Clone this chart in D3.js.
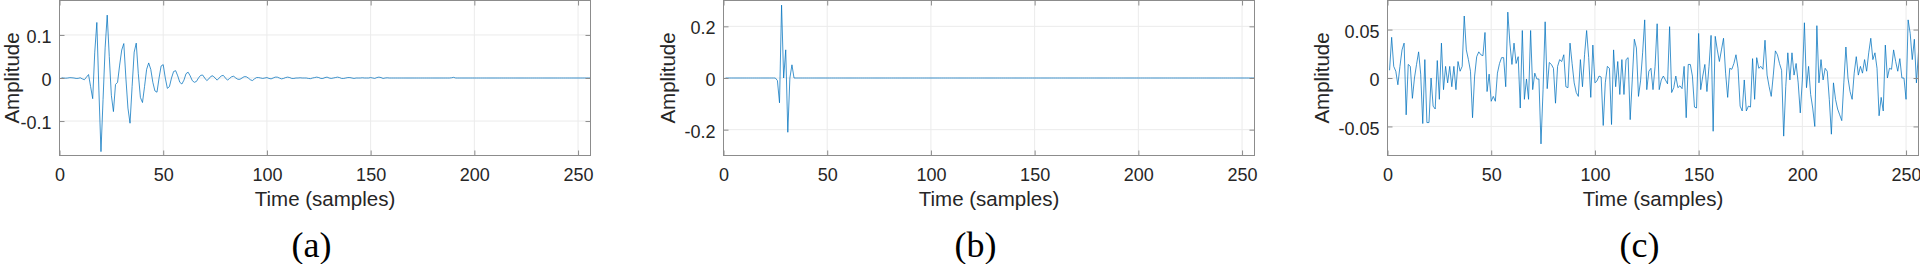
<!DOCTYPE html>
<html>
<head>
<meta charset="utf-8">
<script src="https://cdn.jsdelivr.net/npm/d3@7"></script>
<style>
    body { margin: 0; background: #fff; }
    svg { display: block; }
</style>
</head>
<body>
<svg id="fig" width="1920" height="264"></svg>
<script>
// ---- data ----
const timeTicks = [0, 50, 100, 150, 200, 250];
const timeDomain = [0, 256];
const captions = ["(a)", "(b)", "(c)"];

const ampTicksA = [-0.1, 0, 0.1];
const ampTicksB = [-0.2, 0, 0.2];
const ampTicksC = [-0.05, 0, 0.05];
const ampDomainA = [-0.18, 0.18];
const ampDomainB = [-0.3, 0.3];
const ampDomainC = [-0.08, 0.08];

// samples 1..256
const seriesA = [
    0.0005, 0, -0.0005, 0, 0.0008, 0.0005, 0, -0.001, -0.0008, 0.0005, -0.002, -0.004, 0.002, 0.008, -0.02, -0.048,
    0.06, 0.129, -0.03, -0.171, -0.05, 0.07, 0.146, 0.05, -0.04, -0.078, -0.015, -0.01, 0.03, 0.065, 0.08, 0.0,
    -0.07, -0.105, -0.02, 0.06, 0.081, 0.01, -0.045, -0.057, -0.02, 0.02, 0.035, 0.02, -0.01, -0.03, -0.033, 0.0,
    0.028, 0.031, 0.0, -0.024, -0.02, 0.0, 0.015, 0.017, 0.005, -0.01, -0.014, -0.005, 0.01, 0.0135, 0.005, -0.006,
    -0.01, -0.008, 0.0, 0.006, 0.007, 0.0, -0.006, -0.002, 0.004, 0.005, 0.0, -0.005, 0.0, 0.005, 0.006, 0.0,
    -0.005, -0.001, 0.003, 0.004, 0.0, -0.003, -0.003, 0.0, 0.003, 0.003, 0.0, -0.004, -0.006, -0.002, 0.001, 0.001,
    0, -0.001, 0, 0.001, -0.001, -0.002, 0, 0.002, 0.002, 0, -0.002, -0.001, 0.001, 0.002, 0.001, -0.001,
    -0.001, 0, 0, 0.0005, 0, 0, 0, -0.001, -0.0015, 0, 0.001, 0.002, 0.001, -0.001, -0.001, 0.001,
    0.002, 0, -0.001, 0, 0.001, 0.002, 0.001, -0.001, -0.001, 0, 0.001, 0.001, 0, -0.001, 0, 0,
    0, 0.0005, 0, 0, 0, 0.001, 0, -0.001, 0.001, 0.002, 0.001, -0.001, 0, 0.0005, 0, 0,
    0, 0, 0, 0, 0, 0, 0, 0, 0, 0, 0, 0, 0, 0, 0, 0,
    0, 0, 0, 0, 0, 0, 0, 0, 0, 0, 0, 0, 0.0005, 0.0015, 0, 0,
    0, 0, 0, 0, 0, 0, 0, 0, 0, 0, 0, 0, 0, 0, 0, 0,
    0, 0, 0, 0, 0, 0, 0, 0, 0, 0, 0, 0, 0, 0, 0, 0,
    0, 0, 0, 0, 0, 0, 0, 0, 0, 0, 0, 0, 0, 0, 0, 0,
    0, 0, 0, 0, 0, 0, 0, 0, 0, 0, 0, 0, 0, 0, 0, 0
];

const seriesB = [
    0, 0, 0, 0, 0, 0, 0, 0, 0, 0, 0, 0, 0, 0, 0, 0,
    0, 0, 0, 0, 0, 0, 0, 0, 0, -0.01, -0.096, 0.282, 0.0, 0.109, -0.21, 0.0,
    0.051, 0, 0, 0, 0, 0, 0, 0, 0, 0, 0, 0, 0, 0, 0, 0,
    0, 0, 0, 0, 0, 0, 0, 0, 0, 0, 0, 0, 0, 0, 0, 0,
    0, 0, 0, 0, 0, 0, 0, 0, 0, 0, 0, 0, 0, 0, 0, 0,
    0, 0, 0, 0, 0, 0, 0, 0, 0, 0, 0, 0, 0, 0, 0, 0,
    0, 0, 0, 0, 0, 0, 0, 0, 0, 0, 0, 0, 0, 0, 0, 0,
    0, 0, 0, 0, 0, 0, 0, 0, 0, 0, 0, 0, 0, 0, 0, 0,
    0, 0, 0, 0, 0, 0, 0, 0, 0, 0, 0, 0, 0, 0, 0, 0,
    0, 0, 0, 0, 0, 0, 0, 0, 0, 0, 0, 0, 0, 0, 0, 0,
    0, 0, 0, 0, 0, 0, 0, 0, 0, 0, 0, 0, 0, 0, 0, 0,
    0, 0, 0, 0, 0, 0, 0, 0, 0, 0, 0, 0, 0, 0, 0, 0,
    0, 0, 0, 0, 0, 0, 0, 0, 0, 0, 0, 0, 0, 0, 0, 0,
    0, 0, 0, 0, 0, 0, 0, 0, 0, 0, 0, 0, 0, 0, 0, 0,
    0, 0, 0, 0, 0, 0, 0, 0, 0, 0, 0, 0, 0, 0, 0, 0,
    0, 0, 0, 0, 0, 0, 0, 0, 0, 0, 0, 0, 0, 0, 0, 0
];

const seriesC = [
    0.008, 0.042, 0.012, 0.007, -0.007, 0.012, 0.029, 0.036, -0.038, 0.014, 0.012, -0.021, 0.000, 0.014, 0.027, 0.004,
    -0.047, 0.019, -0.046, -0.046, 0.000, -0.029, -0.032, 0.018, -0.022, 0.036, -0.012, 0.012, -0.005, 0.012, -0.009, 0.012,
    -0.012, 0.017, 0.007, 0.012, 0.064, 0.029, 0.019, 0.007, -0.041, 0.002, 0.022, 0.027, 0.024, 0.023, 0.047, -0.014,
    0.004, -0.024, -0.019, -0.024, 0.005, 0.015, 0.021, 0.021, -0.009, 0.068, 0.036, 0.014, 0.036, 0.015, 0.022, -0.031,
    0.049, -0.022, -0.001, -0.022, 0.049, -0.012, 0.005, -0.001, -0.001, -0.068, -0.012, 0.058, -0.011, 0.016, 0.014, 0.010,
    -0.026, 0.012, 0.019, 0.017, 0.024, -0.009, -0.010, 0.036, 0.015, -0.005, -0.015, -0.019, 0.019, -0.009, 0.024, 0.049,
    0.021, -0.020, 0.034, -0.005, -0.003, 0.002, 0.001, -0.049, -0.005, 0.012, 0.010, -0.048, 0.029, -0.009, 0.017, -0.017,
    0.019, -0.017, 0.019, 0.021, -0.043, -0.002, 0.040, 0.031, -0.019, -0.003, 0.026, 0.060, -0.012, 0.007, 0.010, -0.012,
    0.012, 0.056, -0.012, -0.002, 0.002, -0.002, -0.006, 0.053, -0.015, -0.010, 0.002, -0.010, -0.008, -0.011, 0.012, -0.041,
    0.014, 0.014, 0.002, -0.030, -0.031, 0.046, -0.012, 0.002, 0.014, -0.014, 0.012, 0.044, -0.055, 0.043, 0.029, 0.017,
    0.029, 0.041, 0.005, -0.020, 0.010, 0.009, 0.015, 0.024, 0.010, -0.029, -0.034, -0.002, -0.034, -0.029, -0.030, 0.020,
    -0.022, 0.021, 0.010, 0.012, 0.009, 0.039, 0.003, -0.009, -0.019, 0.003, 0.028, 0.024, 0.015, 0.008, -0.060, -0.009,
    0.026, -0.002, 0.026, 0.003, 0.015, -0.005, -0.036, -0.002, 0.057, -0.010, 0.012, -0.017, -0.031, -0.050, 0.054, -0.005,
    0.019, -0.002, 0.010, 0.007, -0.022, -0.058, -0.005, -0.022, -0.032, -0.038, -0.044, -0.005, 0.032, 0.000, -0.014, -0.022,
    0.005, 0.022, 0.003, 0.012, 0.005, 0.019, 0.007, 0.026, 0.041, 0.019, 0.026, 0.010, -0.039, -0.020, -0.034, 0.034,
    0.000, 0.010, 0.009, 0.029, 0.017, 0.007, 0.020, 0.000, 0.000, -0.022, 0.060, 0.046, 0.019, 0.040, -0.005, 0.027
];

// ---- layout ----
const plotLeft = [59.5, 723.5, 1387.5],
      plotTop = 0.5,
      plotW = 531,
      plotH = 155;
const sansFont = '"Liberation Sans", Arial, Helvetica, sans-serif',
      serifFont = '"Liberation Serif", "Times New Roman", serif';
const tickFontSize = 18, labelFontSize = 20.5, captionFontSize = 36;
const lineColor = "#0072bd", gridColor = "#ebebeb", boxColor = "#8c8c8c", textColor = "#262626";

const panels = [
    { values: seriesA, yDomain: ampDomainA, yTicks: ampTicksA, caption: captions[0] },
    { values: seriesB, yDomain: ampDomainB, yTicks: ampTicksB, caption: captions[1] },
    { values: seriesC, yDomain: ampDomainC, yTicks: ampTicksC, caption: captions[2] }
];

const svg = d3.select("#fig");
const fmt = d => d === 0 ? "0" : String(d);

panels.forEach((p, i) => {
    const g = svg.append("g")
        .attr("class", `panel-${i}`)
        .attr("transform", `translate(${plotLeft[i]}, ${plotTop})`);

    const x = d3.scaleLinear().domain(timeDomain).range([0, plotW]);
    const y = d3.scaleLinear().domain(p.yDomain).range([plotH, 0]);

    // grid
    g.append("g").selectAll("line")
        .data(timeTicks)
        .enter().append("line")
        .attr("x1", d => x(d)).attr("x2", d => x(d))
        .attr("y1", 0).attr("y2", plotH)
        .attr("stroke", gridColor);
    g.append("g").selectAll("line")
        .data(p.yTicks)
        .enter().append("line")
        .attr("x1", 0).attr("x2", plotW)
        .attr("y1", d => y(d)).attr("y2", d => y(d))
        .attr("stroke", gridColor);

    // signal
    g.append("clipPath").attr("id", `clip-${i}`)
        .append("rect").attr("width", plotW).attr("height", plotH);
    const line = d3.line()
        .x((d, k) => x(k + 1))
        .y(d => y(d));
    g.append("path")
        .datum(p.values)
        .attr("clip-path", `url(#clip-${i})`)
        .attr("fill", "none")
        .attr("stroke", lineColor)
        .attr("stroke-width", 0.75)
        .attr("stroke-linejoin", "round")
        .attr("d", line);

    // axes: inward ticks on all four sides
    const styleAxis = (sel) => {
        sel.select(".domain").remove();
        sel.selectAll(".tick line").attr("stroke", boxColor);
        sel.selectAll(".tick text")
            .attr("fill", textColor)
            .style("font-family", sansFont)
            .style("font-size", `${tickFontSize}px`);
    };
    g.append("g")
        .attr("transform", `translate(0, ${plotH})`)
        .call(d3.axisBottom(x).tickValues(timeTicks).tickFormat(fmt).tickSizeInner(-5).tickSizeOuter(0).tickPadding(13))
        .call(styleAxis);
    g.append("g")
        .call(d3.axisTop(x).tickValues(timeTicks).tickFormat("").tickSizeInner(-5).tickSizeOuter(0))
        .call(styleAxis);
    const yAxis = g.append("g")
        .call(d3.axisLeft(y).tickValues(p.yTicks).tickFormat(fmt).tickSizeInner(-5).tickSizeOuter(0).tickPadding(8))
        .call(styleAxis);
    yAxis.selectAll(".tick text").attr("dy", "0.42em");
    g.append("g")
        .attr("transform", `translate(${plotW}, 0)`)
        .call(d3.axisRight(y).tickValues(p.yTicks).tickFormat("").tickSizeInner(-5).tickSizeOuter(0))
        .call(styleAxis);

    // box
    g.append("rect")
        .attr("width", plotW).attr("height", plotH)
        .attr("fill", "none")
        .attr("stroke", boxColor);

    // labels
    let maxW = 0;
    yAxis.selectAll(".tick text").each(function () {
        maxW = Math.max(maxW, this.getComputedTextLength());
    });
    // keep the label inside the page
    const labelX = Math.max(-8 - maxW - 9, 19 - plotLeft[i]);
    g.append("text")
        .attr("transform", `translate(${labelX}, ${plotH / 2}) rotate(-90)`)
        .attr("text-anchor", "middle")
        .attr("fill", textColor)
        .style("font-family", sansFont)
        .style("font-size", `${labelFontSize}px`)
        .text("Amplitude");
    g.append("text")
        .attr("x", plotW / 2)
        .attr("y", 206 - plotTop)
        .attr("text-anchor", "middle")
        .attr("fill", textColor)
        .style("font-family", sansFont)
        .style("font-size", `${labelFontSize}px`)
        .text("Time (samples)");

    g.append("text")
        .attr("x", 252)
        .attr("y", 256.5 - plotTop)
        .attr("text-anchor", "middle")
        .attr("fill", "#000")
        .style("font-family", serifFont)
        .style("font-size", `${captionFontSize}px`)
        .text(p.caption);
});
</script>
</body>
</html>
